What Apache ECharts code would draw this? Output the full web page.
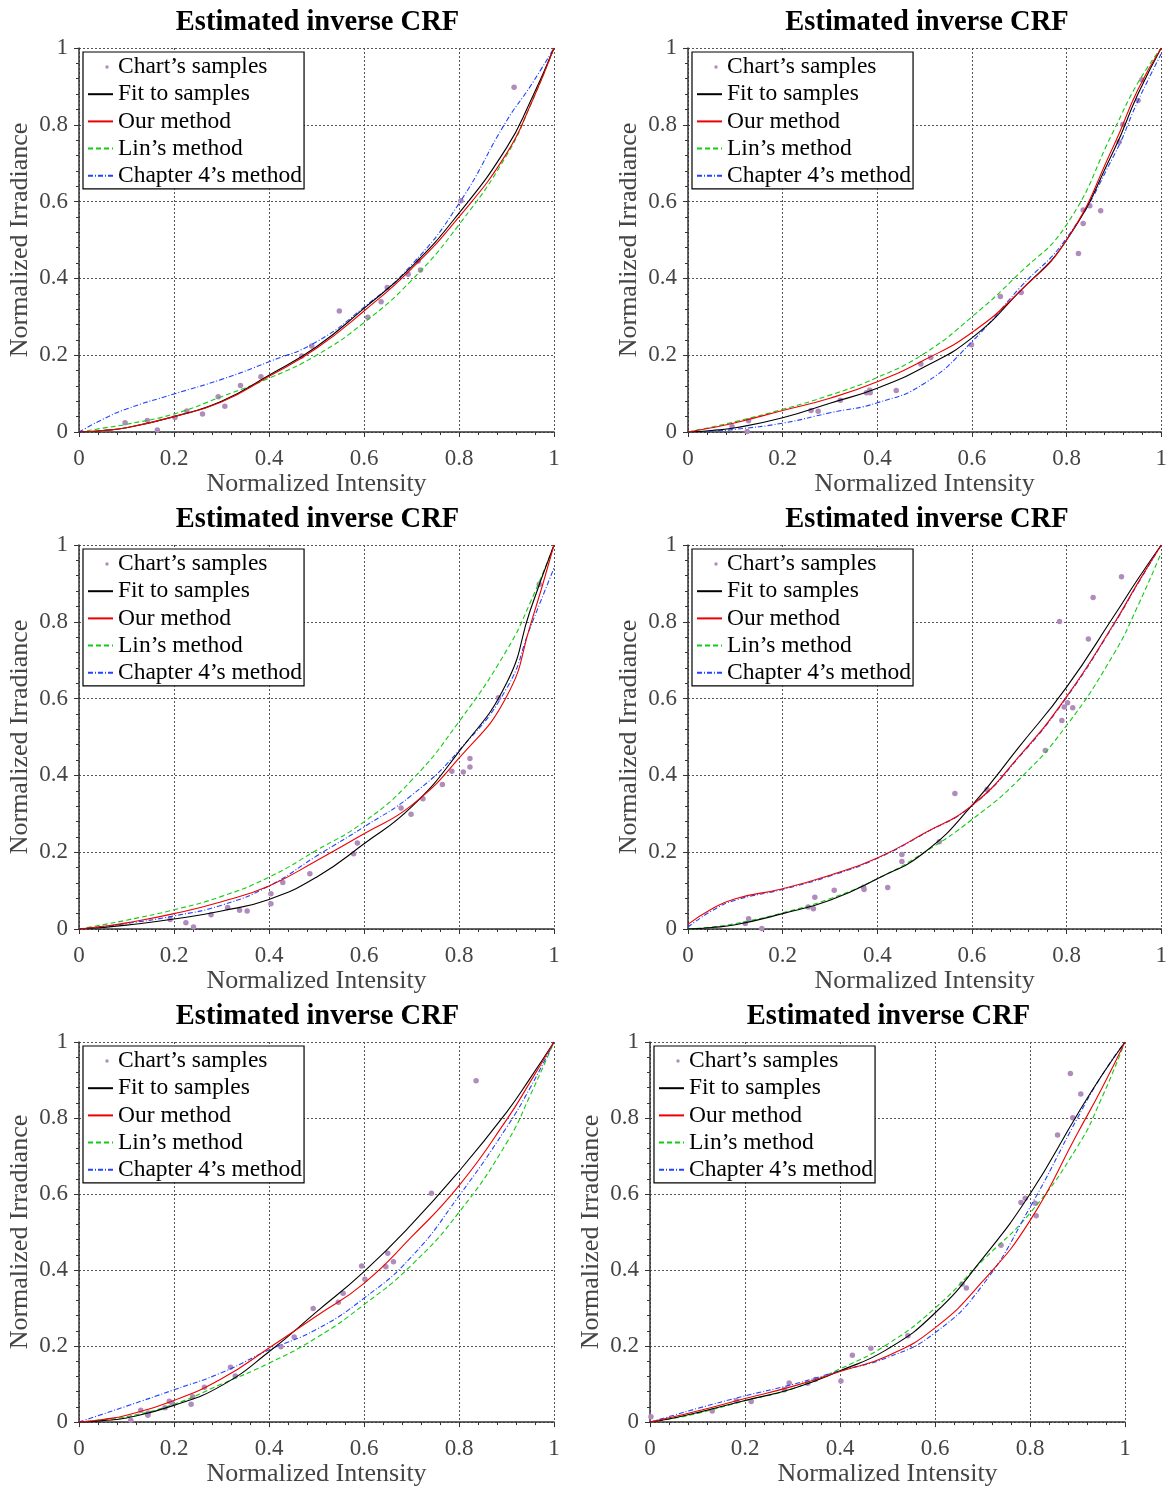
<!DOCTYPE html>
<html lang="en">
<head>
<meta charset="UTF-8">
<title>Estimated inverse CRF</title>
<script src="https://cdn.jsdelivr.net/npm/echarts@6.0.0/dist/echarts.min.js"></script>
<style>
  html, body { margin: 0; padding: 0; background: #fff; }
  #chart { width: 1170px; height: 1488px; }
</style>
</head>
<body>
<div id="chart"></div>
<script>
var curveX = [0, 0.05, 0.1, 0.2, 0.3, 0.4, 0.5, 0.6, 0.7, 0.8, 0.9, 0.95, 1];

// panel 1 (top left)
var p1SampleX = [0.097, 0.144, 0.165, 0.202, 0.227, 0.260, 0.293, 0.307, 0.340, 0.383, 0.469, 0.490, 0.548, 0.608, 0.636, 0.649, 0.693, 0.714, 0.719, 0.804, 0.916];
var p1SampleY = [0.024, 0.030, 0.005, 0.038, 0.055, 0.047, 0.092, 0.067, 0.121, 0.144, 0.198, 0.224, 0.315, 0.299, 0.339, 0.376, 0.411, 0.445, 0.422, 0.602, 0.898];
var p1Fit  = [0, 0.004, 0.011, 0.040, 0.080, 0.148, 0.222, 0.322, 0.430, 0.570, 0.740, 0.860, 1];
var p1Ours = [0, 0.004, 0.011, 0.040, 0.078, 0.145, 0.218, 0.315, 0.425, 0.560, 0.725, 0.850, 1];
var p1Lin  = [0, 0.010, 0.020, 0.047, 0.092, 0.140, 0.200, 0.285, 0.395, 0.540, 0.720, 0.850, 1];
var p1Ch4  = [0, 0.033, 0.060, 0.099, 0.137, 0.183, 0.235, 0.325, 0.435, 0.595, 0.810, 0.900, 1];

// panel 2 (top right)
var p2SampleX = [0.093, 0.125, 0.128, 0.260, 0.275, 0.322, 0.377, 0.384, 0.385, 0.440, 0.492, 0.513, 0.599, 0.660, 0.704, 0.825, 0.835, 0.835, 0.849, 0.872, 0.911, 0.919, 0.951, 0.959];
var p2SampleY = [0.014, 0.001, 0.029, 0.056, 0.054, 0.083, 0.102, 0.109, 0.102, 0.108, 0.177, 0.194, 0.227, 0.353, 0.363, 0.465, 0.578, 0.543, 0.589, 0.576, 0.755, 0.801, 0.863, 0.917];
var p2Fit  = [0, 0.004, 0.011, 0.037, 0.075, 0.114, 0.170, 0.245, 0.365, 0.500, 0.734, 0.878, 1];
var p2Ours = [0, 0.011, 0.024, 0.056, 0.088, 0.131, 0.188, 0.259, 0.365, 0.500, 0.747, 0.890, 1];
var p2Lin  = [0, 0.013, 0.027, 0.059, 0.096, 0.142, 0.205, 0.300, 0.413, 0.540, 0.786, 0.908, 1];
var p2Ch4  = [0, 0.002, 0.007, 0.023, 0.050, 0.076, 0.127, 0.235, 0.374, 0.505, 0.720, 0.860, 0.985];

// panel 3 (middle left)
var p3SampleX = [0.192, 0.225, 0.241, 0.278, 0.313, 0.338, 0.354, 0.404, 0.404, 0.429, 0.486, 0.578, 0.586, 0.678, 0.699, 0.724, 0.765, 0.785, 0.809, 0.823, 0.823, 0.883, 0.969];
var p3SampleY = [0.025, 0.016, 0.005, 0.037, 0.056, 0.049, 0.047, 0.092, 0.066, 0.121, 0.144, 0.196, 0.224, 0.315, 0.299, 0.339, 0.376, 0.411, 0.409, 0.444, 0.422, 0.602, 0.898];
var p3Fit  = [0, 0.004, 0.010, 0.026, 0.047, 0.077, 0.135, 0.222, 0.318, 0.462, 0.640, 0.830, 1];
var p3Ours = [0, 0.007, 0.016, 0.040, 0.071, 0.112, 0.178, 0.248, 0.322, 0.445, 0.605, 0.790, 1];
var p3Lin  = [0, 0.011, 0.023, 0.050, 0.085, 0.135, 0.205, 0.279, 0.387, 0.540, 0.725, 0.850, 1];
var p3Ch4  = [0, 0.006, 0.014, 0.034, 0.062, 0.112, 0.190, 0.266, 0.348, 0.465, 0.626, 0.785, 0.940];

// panel 4 (middle right)
var p4SampleX = [0.121, 0.128, 0.156, 0.254, 0.265, 0.268, 0.309, 0.371, 0.372, 0.422, 0.452, 0.452, 0.531, 0.564, 0.632, 0.755, 0.785, 0.790, 0.795, 0.802, 0.813, 0.846, 0.856, 0.916];
var p4SampleY = [0.014, 0.027, 0.001, 0.057, 0.053, 0.083, 0.101, 0.109, 0.103, 0.108, 0.194, 0.176, 0.227, 0.353, 0.363, 0.465, 0.801, 0.543, 0.578, 0.589, 0.576, 0.755, 0.863, 0.917];
var p4Fit  = [0, 0.004, 0.011, 0.040, 0.075, 0.131, 0.200, 0.322, 0.475, 0.630, 0.815, 0.910, 1];
var p4Ours = [0.012, 0.052, 0.079, 0.105, 0.140, 0.185, 0.250, 0.322, 0.450, 0.605, 0.795, 0.900, 1];
var p4Lin  = [0, 0.005, 0.014, 0.042, 0.079, 0.131, 0.200, 0.285, 0.390, 0.530, 0.717, 0.840, 0.980];
var p4Ch4  = [0.005, 0.047, 0.075, 0.103, 0.138, 0.184, 0.249, 0.321, 0.448, 0.603, 0.793, 0.898, 1];

// panel 5 (bottom left)
var p5SampleX = [0.109, 0.130, 0.145, 0.146, 0.181, 0.190, 0.196, 0.236, 0.239, 0.264, 0.319, 0.329, 0.425, 0.453, 0.493, 0.546, 0.556, 0.595, 0.602, 0.646, 0.650, 0.662, 0.742, 0.836];
var p5SampleY = [0.005, 0.031, 0.018, 0.024, 0.038, 0.055, 0.050, 0.047, 0.067, 0.092, 0.144, 0.121, 0.198, 0.224, 0.299, 0.315, 0.339, 0.411, 0.376, 0.409, 0.444, 0.422, 0.602, 0.898];
var p5Fit  = [0, 0.004, 0.011, 0.044, 0.096, 0.185, 0.290, 0.396, 0.520, 0.660, 0.815, 0.905, 1];
var p5Ours = [0, 0.007, 0.018, 0.057, 0.114, 0.195, 0.279, 0.365, 0.487, 0.622, 0.795, 0.895, 1];
var p5Lin  = [0, 0.006, 0.014, 0.047, 0.100, 0.155, 0.222, 0.309, 0.413, 0.552, 0.734, 0.860, 1];
var p5Ch4  = [0, 0.021, 0.042, 0.085, 0.130, 0.190, 0.244, 0.326, 0.435, 0.595, 0.775, 0.880, 1];

// panel 6 (bottom right)
var p6SampleX = [0.002, 0.131, 0.182, 0.213, 0.283, 0.293, 0.332, 0.348, 0.402, 0.426, 0.465, 0.543, 0.657, 0.666, 0.739, 0.781, 0.790, 0.811, 0.813, 0.858, 0.890, 0.885, 0.907];
var p6SampleY = [0.014, 0.029, 0.056, 0.054, 0.085, 0.103, 0.102, 0.112, 0.108, 0.176, 0.194, 0.227, 0.363, 0.353, 0.465, 0.578, 0.589, 0.576, 0.543, 0.755, 0.801, 0.917, 0.863];
var p6Fit  = [0, 0.011, 0.025, 0.057, 0.088, 0.135, 0.192, 0.287, 0.430, 0.600, 0.810, 0.910, 1];
var p6Ours = [0, 0.014, 0.029, 0.062, 0.094, 0.133, 0.174, 0.248, 0.370, 0.530, 0.760, 0.875, 1];
var p6Lin  = [0, 0.010, 0.023, 0.056, 0.088, 0.140, 0.205, 0.300, 0.425, 0.550, 0.725, 0.850, 1];
var p6Ch4  = [0, 0.018, 0.036, 0.069, 0.099, 0.135, 0.170, 0.235, 0.360, 0.565, 0.800, 0.910, 1];

var panels = [
  { sx: p1SampleX, sy: p1SampleY, fit: p1Fit, ours: p1Ours, lin: p1Lin, ch4: p1Ch4 },
  { sx: p2SampleX, sy: p2SampleY, fit: p2Fit, ours: p2Ours, lin: p2Lin, ch4: p2Ch4 },
  { sx: p3SampleX, sy: p3SampleY, fit: p3Fit, ours: p3Ours, lin: p3Lin, ch4: p3Ch4 },
  { sx: p4SampleX, sy: p4SampleY, fit: p4Fit, ours: p4Ours, lin: p4Lin, ch4: p4Ch4 },
  { sx: p5SampleX, sy: p5SampleY, fit: p5Fit, ours: p5Ours, lin: p5Lin, ch4: p5Ch4 },
  { sx: p6SampleX, sy: p6SampleY, fit: p6Fit, ours: p6Ours, lin: p6Lin, ch4: p6Ch4 }
];

// plot boxes in pixels: [left, top, width, height]
var boxes = [
  [79, 48, 475, 384], [688, 48, 476, 384],
  [79, 545, 475, 384], [688, 545, 476, 384],
  [79, 1042, 475, 384], [650, 1042, 475, 384]
];

var names = ['Chart\u2019s samples', 'Fit to samples', 'Our method', 'Lin\u2019s method', 'Chapter 4\u2019s method'];
var serif = "'Liberation Serif', 'Times New Roman', serif";
var dotIcon = 'path://M0,0M25,14M19,5.3A1.7,1.7,0,1,1,19,8.7A1.7,1.7,0,1,1,19,5.3Z';

function pairs(xs, ys) {
  return xs.map(function(x, i) { return [x, ys[i]]; });
}

function axisCommon(i) {
  return {
    type: 'value', gridIndex: i, min: 0, max: 1, interval: 0.2,
    axisLine: { show: true, onZero: false, lineStyle: { color: '#333', width: 1.5 } },
    axisTick: { show: true, length: 5, lineStyle: { color: '#333' } },
    minorTick: { show: true, splitNumber: 5, length: 3, lineStyle: { color: '#333' } },
    splitLine: { show: true, lineStyle: { color: '#555', type: [2, 2], width: 1 } },
    axisLabel: { fontFamily: serif, fontSize: 23, color: '#444', margin: 11,
      formatter: function(v) { return String(+v.toFixed(1)); } },
    nameLocation: 'middle',
    nameTextStyle: { fontFamily: serif, fontSize: 26, color: '#444' }
  };
}

var grid = [], xAxis = [], yAxis = [], title = [], legend = [], series = [];

panels.forEach(function(p, i) {
  var b = boxes[i];
  grid.push({ left: b[0], top: b[1], width: b[2], height: b[3], containLabel: false });

  var xa = axisCommon(i);
  xa.name = 'Normalized Intensity';
  xa.nameGap = 32;
  xa.axisLabel.margin = 15;
  xAxis.push(xa);

  var ya = axisCommon(i);
  ya.name = 'Normalized Irradiance';
  ya.nameGap = 46;
  yAxis.push(ya);

  title.push({
    text: 'Estimated inverse CRF',
    left: b[0] + b[2] / 2 - 4, textAlign: 'center',
    top: b[1] - 45,
    textStyle: { fontFamily: serif, fontSize: 28.5, fontWeight: 'bold', color: '#000' }
  });

  legend.push({
    orient: 'vertical', left: b[0] + 4, top: b[1] + 4,
    data: [{ name: names[0], icon: dotIcon, itemStyle: { opacity: 1 } }, names[1], names[2], names[3], names[4]],
    itemWidth: 25, itemHeight: 14, itemGap: 3.2,
    padding: [3, 2, 1, 4],
    itemStyle: { opacity: 0 },
    textStyle: { fontFamily: serif, fontSize: 23.5, color: '#000' },
    borderColor: '#000', borderWidth: 1.2, backgroundColor: '#fff',
    selectedMode: false, z: 10
  });

  series.push({
    name: names[0], type: 'scatter', xAxisIndex: i, yAxisIndex: i,
    data: pairs(p.sx, p.sy), symbolSize: 5.5,
    itemStyle: { color: '#b08cbc', opacity: 1 }, z: 3
  });

  var lines = [
    { name: names[1], data: p.fit,  color: '#000000', type: 'solid', z: 5 },
    { name: names[2], data: p.ours, color: '#ee0000', type: 'solid', z: 6 },
    { name: names[3], data: p.lin,  color: '#11cc11', type: [5, 3], z: 4 },
    { name: names[4], data: p.ch4,  color: '#2244ff', type: [5, 2, 1, 2], z: 4 }
  ];
  lines.forEach(function(l) {
    series.push({
      name: l.name, type: 'line', xAxisIndex: i, yAxisIndex: i,
      data: pairs(curveX, l.data), smooth: 0.5,
      symbol: 'none', showSymbol: false,
      lineStyle: { color: l.color, width: 1.1, type: l.type },
      itemStyle: { color: l.color }, z: l.z, silent: true
    });
  });
});

var myChart = echarts.init(document.getElementById('chart'), null, { renderer: 'canvas' });
myChart.setOption({
  animation: false,
  backgroundColor: '#fff',
  title: title,
  legend: legend,
  grid: grid,
  xAxis: xAxis,
  yAxis: yAxis,
  series: series
});
</script>
</body>
</html>
